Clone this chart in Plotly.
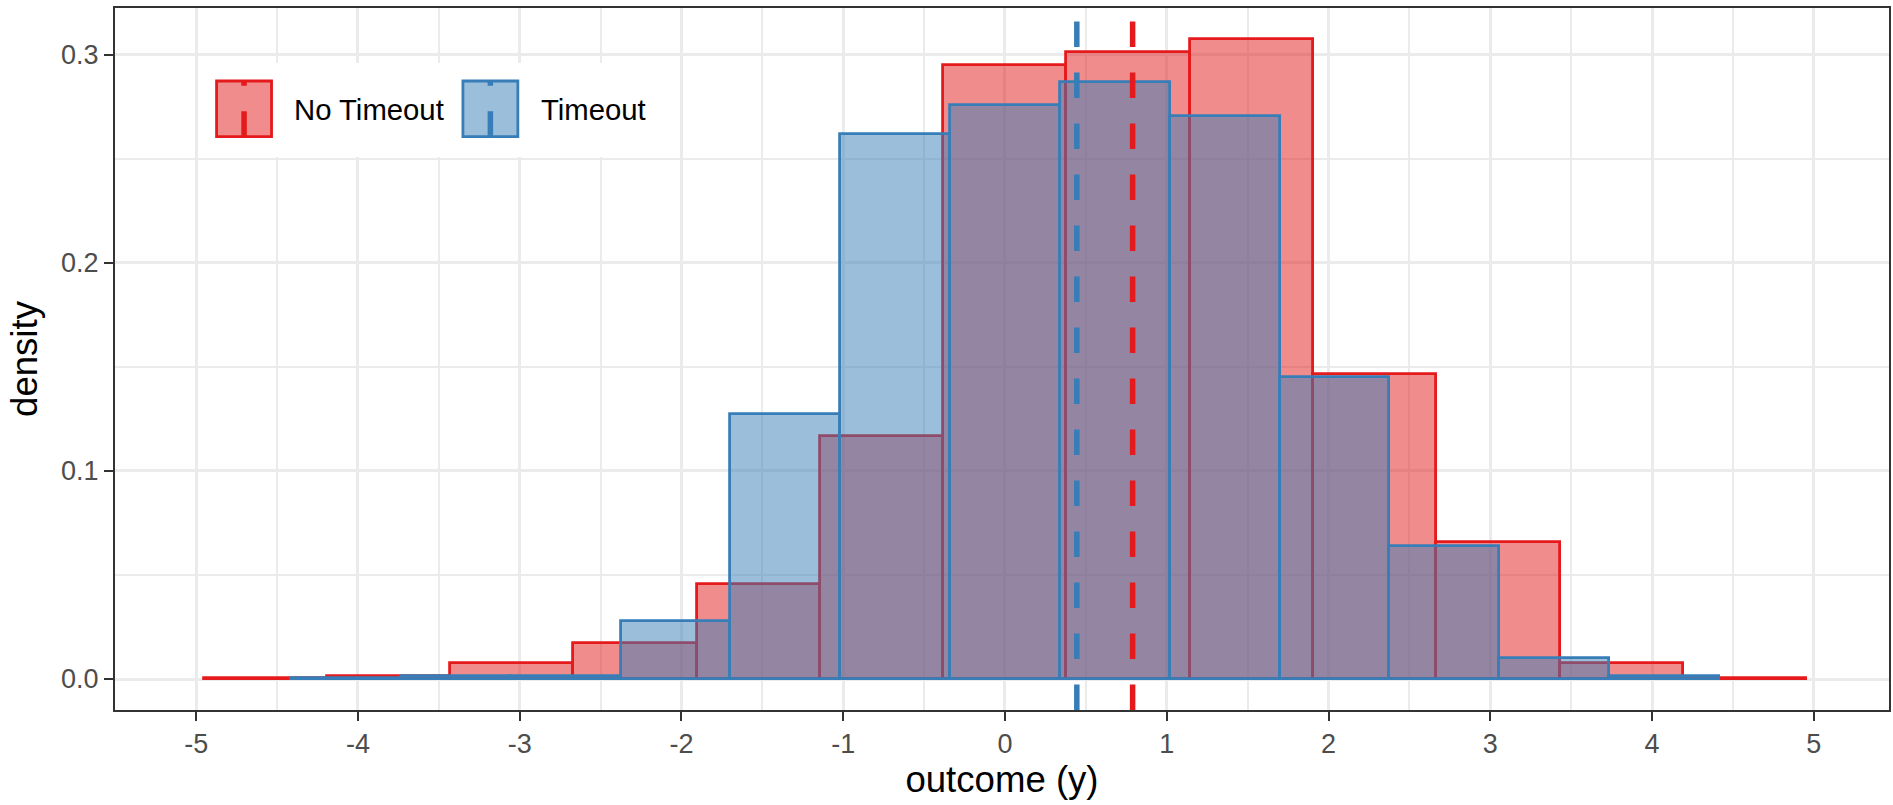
import plotly.graph_objects as go

# ---- data ----
groups = ["No Timeout", "Timeout"]
colors = ["#E41A1C", "#377EB8"]
fills = ["rgba(228,26,28,0.5)", "rgba(55,126,184,0.5)"]

red_edges = [-4.954, -4.192, -3.430, -2.668, -1.906, -1.144, -0.382, 0.380,
             1.142, 1.904, 2.666, 3.428, 4.190, 4.952]
red_density = [0.0003, 0.0016, 0.0078, 0.0173, 0.0457, 0.1170, 0.2949,
               0.3013, 0.3075, 0.1466, 0.0660, 0.0078, 0.0003]

blue_edges = [-4.413, -3.734, -3.055, -2.376, -1.697, -1.018, -0.339, 0.340,
              1.019, 1.698, 2.377, 3.056, 3.735, 4.414]
blue_density = [0.0003, 0.0016, 0.0016, 0.0280, 0.1274, 0.2619, 0.2758,
                0.2869, 0.2705, 0.1452, 0.0638, 0.0102, 0.0016]

means = [0.789, 0.444]          # No Timeout, Timeout

x_ticks = [-5, -4, -3, -2, -1, 0, 1, 2, 3, 4, 5]
x_ticktext = ["-5", "-4", "-3", "-2", "-1", "0", "1", "2", "3", "4", "5"]
y_ticks = [0.0, 0.1, 0.2, 0.3]
y_ticktext = ["0.0", "0.1", "0.2", "0.3"]

FONT = "Liberation Sans, Arial, sans-serif"
W, H = 1893, 805
ML, MR, MT, MB = 115, 2, 8, 95
DASH = "25.5px,25.5px"

fig = go.Figure()
for name, edges, dens, col, fill in [
    (groups[0], red_edges, red_density, colors[0], fills[0]),
    (groups[1], blue_edges, blue_density, colors[1], fills[1]),
]:
    centers = [(a + b) / 2 for a, b in zip(edges[:-1], edges[1:])]
    widths = [b - a for a, b in zip(edges[:-1], edges[1:])]
    fig.add_trace(go.Bar(
        x=centers, y=dens, width=widths, name=name,
        marker=dict(color=fill, line=dict(color=col, width=2.8)),
        showlegend=False,
    ))

# dashed mean lines spanning the panel (drawn bottom -> top like ggplot)
for m, col in zip(means, colors):
    fig.add_shape(type="line", xref="x", yref="paper", x0=m, x1=m, y0=0, y1=1,
                  line=dict(color=col, width=5.5, dash=DASH), layer="above")

# ---- manual legend (ggplot-style keys) ----
pw = W - ML - MR
ph = H - MT - MB
def px(xp):
    return (xp - ML) / pw
def py(yp):
    return (H - MB - yp) / ph

fig.add_shape(type="rect", xref="paper", yref="paper",
              x0=px(201), x1=px(676), y0=py(157), y1=py(63),
              fillcolor="white", line=dict(width=0), layer="above")
key_x = [216.7, 463.3]
text_x = [291.7, 539.3]
for i in range(2):
    x0, x1 = key_x[i], key_x[i] + 55
    fig.add_shape(type="rect", xref="paper", yref="paper",
                  x0=px(x0), x1=px(x1), y0=py(136.7), y1=py(81),
                  fillcolor=fills[i], line=dict(color=colors[i], width=2.8),
                  layer="above")
    xc = (x0 + x1) / 2
    fig.add_shape(type="line", xref="paper", yref="paper",
                  x0=px(xc), x1=px(xc), y0=py(136.7), y1=py(81),
                  line=dict(color=colors[i], width=5.5, dash=DASH),
                  layer="above")
    fig.add_annotation(xref="paper", yref="paper", x=px(text_x[i]), y=py(109.8),
                       text=groups[i], showarrow=False, xanchor="left",
                       yanchor="middle", font=dict(family=FONT, size=29.3, color="black"))

axis_common = dict(
    showline=True, linecolor="#333333", linewidth=2, mirror=True,
    ticks="outside", ticklen=9, tickwidth=2, tickcolor="#333333",
    showgrid=True, gridcolor="#EBEBEB", gridwidth=3, zeroline=False,
    tickfont=dict(family=FONT, size=27, color="#4D4D4D"),
)
fig.update_layout(
    width=W, height=H,
    margin=dict(l=ML, r=MR, t=MT, b=MB),
    paper_bgcolor="white", plot_bgcolor="white",
    barmode="overlay", bargap=0,
    xaxis=dict(range=[-5.502, 5.465], tickvals=x_ticks, ticktext=x_ticktext,
               minor=dict(dtick=0.5, tick0=0, showgrid=True, gridcolor="#EBEBEB", gridwidth=1.6),
               title=dict(text="outcome (y)", standoff=8,
                          font=dict(family=FONT, size=36.6, color="black")),
               **axis_common),
    yaxis=dict(range=[-0.0149, 0.3225], tickvals=y_ticks, ticktext=y_ticktext,
               minor=dict(dtick=0.05, tick0=0, showgrid=True, gridcolor="#EBEBEB", gridwidth=1.6),
               title=dict(text="density", standoff=12,
                          font=dict(family=FONT, size=36.6, color="black")),
               **axis_common),
)

fig.write_html("out.html")
